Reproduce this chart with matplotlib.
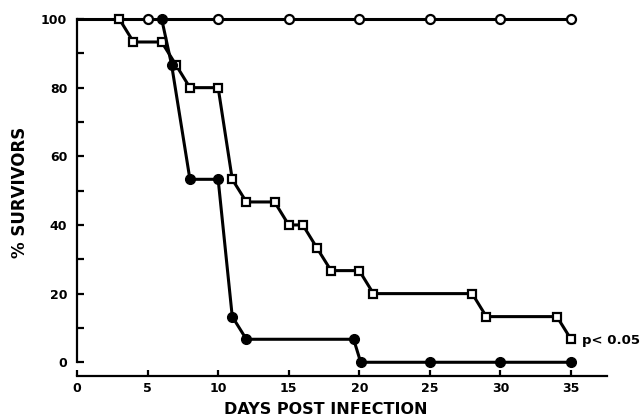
import matplotlib
matplotlib.use("Agg")
import matplotlib.pyplot as plt

plt.rcParams['font.family'] = ['DejaVu Sans']
plt.rcParams['font.weight'] = 'bold'

# Control group (open circles)
ctrl_days = [0, 5, 10, 15, 20, 25, 30, 35]
ctrl_surv = [100, 100, 100, 100, 100, 100, 100, 100]
ctrl_marker_days = [5, 10, 15, 20, 25, 30, 35]
ctrl_marker_surv = [100, 100, 100, 100, 100, 100, 100]

# Treated group (open squares)
sq_days = [0, 3, 4, 6, 7, 8, 10, 11, 12, 14, 15, 16, 17, 18, 20, 21, 28, 29, 34, 35]
sq_surv = [100, 100, 93.3, 93.3, 86.7, 80, 80, 53.3, 46.7, 46.7, 40, 40, 33.3, 26.7, 26.7, 20, 20, 13.3, 13.3, 6.7]

# Untreated group (filled circles)
fc_days = [0, 6, 6.7, 8, 10, 11, 12, 19.6, 20.1, 25, 30, 35]
fc_surv = [100, 100, 86.7, 53.3, 53.3, 13.3, 6.7, 6.7, 0, 0, 0, 0]

x_ticks = [0, 5, 10, 15, 20, 25, 30, 35]
y_ticks = [0, 20, 40, 60, 80, 100]
y_minor = [10, 30, 50, 70, 90]

fig = plt.figure(figsize=(6.44, 4.18), dpi=100)
ax = fig.add_axes([77/644, 1 - 376/418, (607 - 77)/644, (376 - 19)/418])

lw = 2.2
ax.plot(ctrl_days, ctrl_surv, color='black', lw=lw, zorder=2, clip_on=False)
ax.plot(ctrl_marker_days, ctrl_marker_surv, linestyle='none', marker='o', ms=6.5,
        mfc='white', mec='black', mew=1.6, zorder=4, clip_on=False)
ax.plot(sq_days[1:], sq_surv[1:], color='black', lw=lw, marker='s', ms=6.2,
        mfc='white', mec='black', mew=1.6, zorder=3, clip_on=False)
ax.plot(fc_days[1:], fc_surv[1:], color='black', lw=lw, marker='o', ms=7,
        mfc='black', mec='black', zorder=3, clip_on=False)

ax.text(35.8, 6.4, 'p< 0.05', fontsize=9.5, fontweight='bold', va='center', ha='left')

ax.set_xlim(0, 37.55)
ax.set_ylim(-4, 100)

for s in ['top', 'right']:
    ax.spines[s].set_visible(False)
ax.spines['left'].set_bounds(0, 100)
ax.spines['left'].set_linewidth(1.6)
ax.spines['bottom'].set_linewidth(1.6)

ax.set_xticks(x_ticks)
ax.set_xticklabels([str(v) for v in x_ticks])
ax.set_yticks(y_ticks)
ax.set_yticklabels([str(v) for v in y_ticks])
ax.set_yticks(y_minor, minor=True)

ax.tick_params(axis='x', direction='in', length=4, width=1.6, pad=4, labelsize=9)
ax.tick_params(axis='y', which='both', direction='in', length=5, width=1.6, pad=7, labelsize=9)

ax.set_xlabel('DAYS POST INFECTION', fontsize=11.5, fontweight='bold')
ax.xaxis.set_label_coords((326 - 77) / 530, -(402 - 376) / 357)
ax.xaxis.label.set_va('top')
ax.set_ylabel('% SURVIVORS', fontsize=12, fontweight='bold')
ax.yaxis.set_label_coords(-(77 - 20) / 530, (376 - 192) / 357)
ax.yaxis.label.set_va('center')
ax.yaxis.label.set_ha('center')

fig.savefig('out.png', dpi=100)
